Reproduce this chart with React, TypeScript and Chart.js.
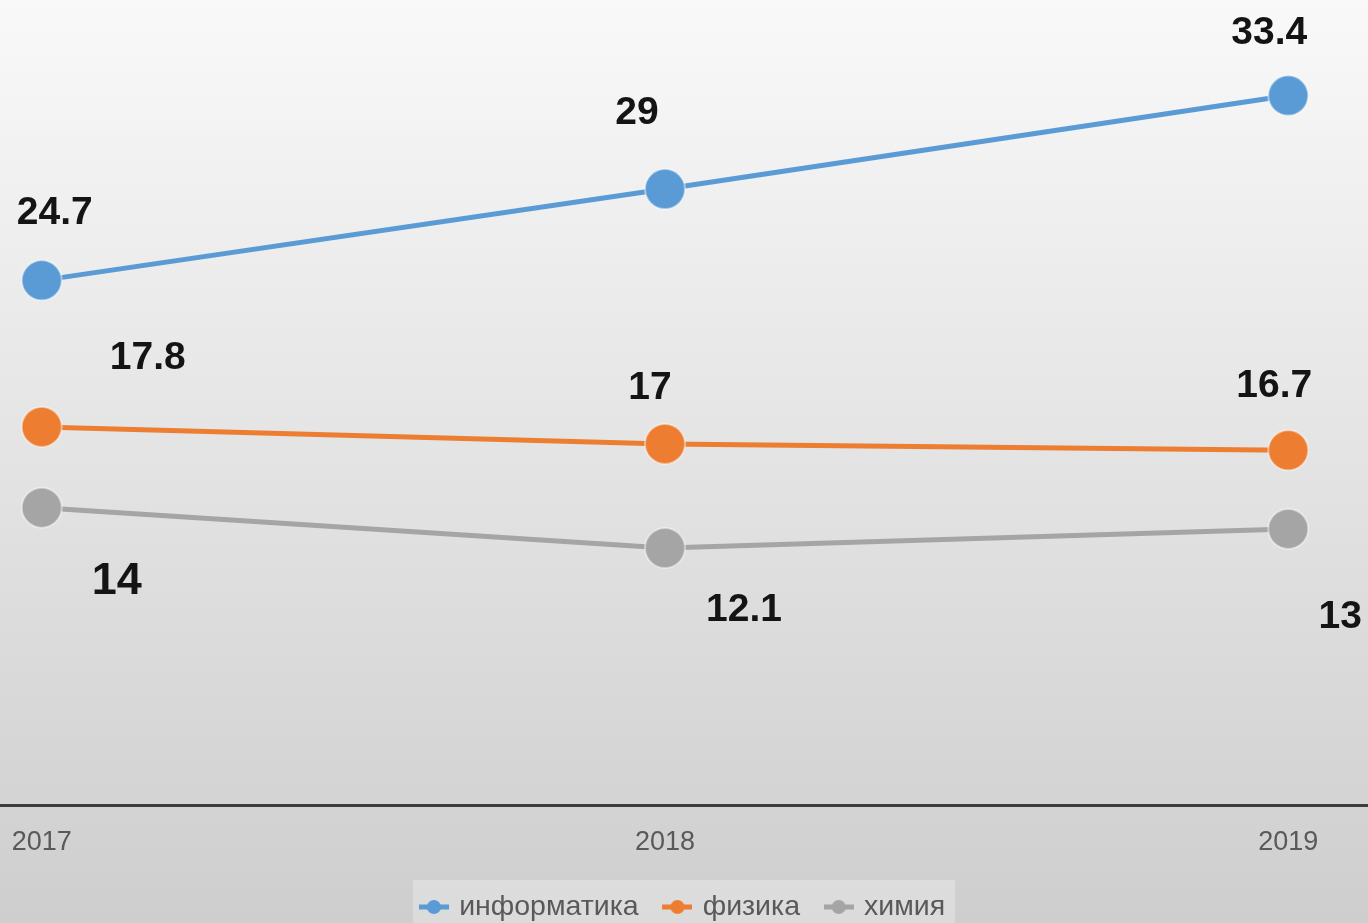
import React, { useEffect, useRef } from "react";
import { Chart, registerables } from "chart.js";

Chart.register(...registerables);

const YEARS = [2017, 2018, 2019];
const SERIES_NAMES = ["информатика", "физика", "химия"];
const INFORMATIKA = [24.7, 29, 33.4];
const FIZIKA = [17.8, 17, 16.7];
const HIMIYA = [14, 12.1, 13];
const SERIES_VALUES = [INFORMATIKA, FIZIKA, HIMIYA];
const COLORS = ["#5B9BD5", "#ED7D31", "#A5A5A5"];

// data-label placement relative to each point (styling, not data)
const LABEL_OFFSETS = [
  [[13, -67], [-28, -76], [-19, -62]],
  [[106, -69], [-15, -56], [-14, -64]],
  [[75, 74], [79, 62], [52, 88]],
];
const LABEL_FONT_SIZES = [
  [39, 39, 39],
  [39, 39, 39],
  [45, 39, 39],
];

const FONT = '"Liberation Sans", Arial, sans-serif';

function makeMarker(color: string): HTMLCanvasElement {
  const c = document.createElement("canvas");
  c.width = 30;
  c.height = 16;
  const g = c.getContext("2d")!;
  g.strokeStyle = color;
  g.lineWidth = 5;
  g.beginPath();
  g.moveTo(0, 8);
  g.lineTo(30, 8);
  g.stroke();
  g.fillStyle = color;
  g.beginPath();
  g.arc(15, 8, 7, 0, Math.PI * 2);
  g.fill();
  return c;
}

const backgroundPlugin = {
  id: "bgGradient",
  beforeDraw(chart: any) {
    const { ctx, width, height } = chart;
    ctx.save();
    const grad = ctx.createLinearGradient(0, 0, 0, height);
    grad.addColorStop(0, "#f9f9f9");
    grad.addColorStop(1, "#cecece");
    ctx.fillStyle = grad;
    ctx.fillRect(0, 0, width, height);
    const boxes = chart.legend && chart.legend.legendHitBoxes;
    if (boxes && boxes.length) {
      const left = Math.min(...boxes.map((b: any) => b.left)) - 10;
      const right = Math.max(...boxes.map((b: any) => b.left + b.width)) + 10;
      ctx.fillStyle = "rgba(255,255,255,0.28)";
      ctx.fillRect(left, 880, right - left, height - 880);
    }
    ctx.restore();
  },
};

const labelPlugin = {
  id: "pointLabels",
  afterDatasetsDraw(chart: any) {
    const { ctx } = chart;
    ctx.save();
    ctx.textAlign = "center";
    ctx.textBaseline = "middle";
    ctx.fillStyle = "#141414";
    chart.data.datasets.forEach((ds: any, di: number) => {
      const meta = chart.getDatasetMeta(di);
      meta.data.forEach((pt: any, i: number) => {
        const [dx, dy] = LABEL_OFFSETS[di][i];
        ctx.font = `bold ${LABEL_FONT_SIZES[di][i]}px ${FONT}`;
        ctx.fillText(String(ds.data[i].y), pt.x + dx, pt.y + dy);
      });
    });
    ctx.restore();
  },
};

export default function App() {
  const ref = useRef<HTMLCanvasElement | null>(null);

  useEffect(() => {
    if (!ref.current) return;
    const markers = COLORS.map(makeMarker);
    const chart = new Chart(ref.current, {
      type: "line",
      data: {
        datasets: SERIES_NAMES.map((name, si) => ({
          label: name,
          data: YEARS.map((yr, i) => ({ x: yr, y: SERIES_VALUES[si][i] })),
          borderColor: COLORS[si],
          backgroundColor: COLORS[si],
          borderWidth: 5,
          pointRadius: 20,
          pointHoverRadius: 20,
          pointBackgroundColor: COLORS[si],
          pointBorderColor: "rgba(255,255,255,0.45)",
          pointBorderWidth: 2,
          tension: 0,
          clip: false as any,
        })),
      },
      options: {
        animation: false,
        responsive: true,
        maintainAspectRatio: false,
        layout: { autoPadding: false, padding: { top: 0, left: 0, right: 0, bottom: -8.25 } },
        font: { family: FONT },
        scales: {
          x: {
            type: "linear",
            min: 2016.933,
            max: 2019.128,
            afterBuildTicks: (scale: any) => {
              scale.ticks = YEARS.map((v) => ({ value: v }));
            },
            grid: { display: false, drawTicks: true, tickLength: 16 },
            border: { display: true, color: "#3c3c3c", width: 3 },
            ticks: {
              padding: 0,
              color: "#595959",
              font: { family: FONT, size: 27, lineHeight: "44px" as any },
              callback: (v: any) => String(v),
              autoSkip: false,
              maxRotation: 0,
            },
          },
          y: {
            display: false,
            min: 0,
            max: 37.9,
          },
        },
        plugins: {
          tooltip: { enabled: false },
          legend: {
            display: true,
            position: "bottom",
            align: "center",
            labels: {
              usePointStyle: true,
              pointStyleWidth: 22,
              boxHeight: 16,
              padding: 27.75,
              color: "#595959",
              font: { family: FONT, size: 28.5 },
              generateLabels: (c: any) => {
                const items = (Chart as any).defaults.plugins.legend.labels.generateLabels(c);
                items.forEach((it: any, i: number) => {
                  it.pointStyle = markers[i];
                  it.fontColor = "#595959";
                });
                return items;
              },
            },
          },
        },
      },
      plugins: [backgroundPlugin, labelPlugin],
    } as any);
    return () => chart.destroy();
  }, []);

  return (
    <div style={{ position: "fixed", left: 0, top: 0, width: 1368, height: 923 }}>
      <canvas ref={ref} />
    </div>
  );
}
